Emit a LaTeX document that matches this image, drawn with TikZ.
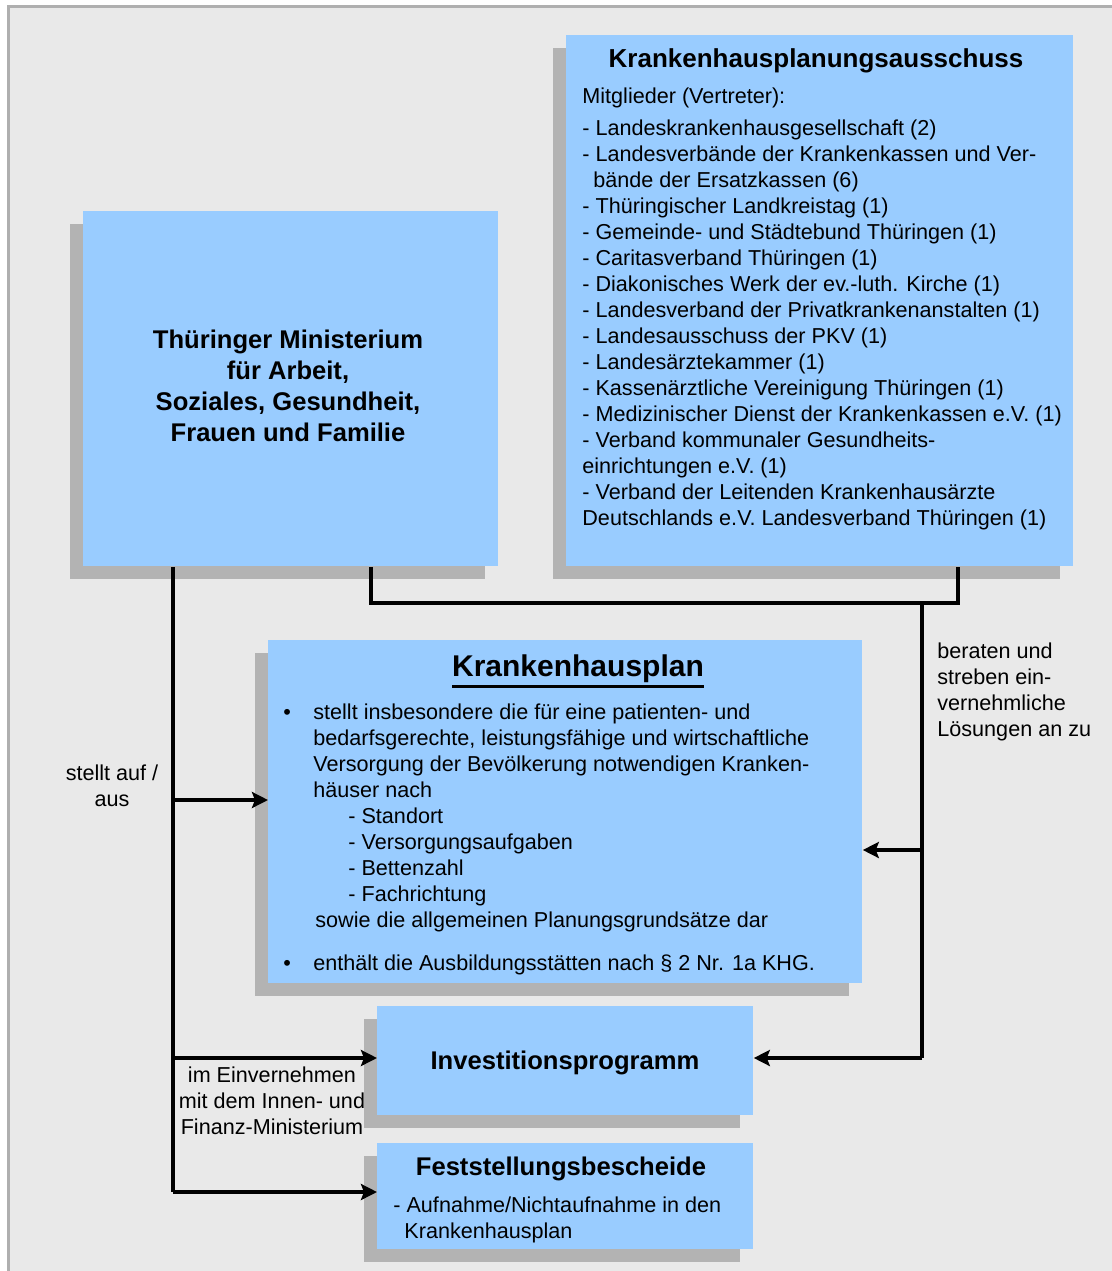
\documentclass[tikz,border=0pt]{standalone}
\usepackage{fontspec}
\setmainfont{Liberation Sans}
\usetikzlibrary{arrows.meta,shadows}
\definecolor{boxblue}{HTML}{99CCFF}
\definecolor{shadowgray}{HTML}{B3B3B3}
\definecolor{bggray}{HTML}{E9E9E9}
\definecolor{framegray}{HTML}{AFAFAF}
\newcommand{\ulthick}[1]{\leavevmode\vtop{\hbox{#1}\kern1.3pt\hrule height 1.4pt}}
\tikzset{
  box/.style={fill=boxblue, inner sep=0pt, anchor=north west,
    drop shadow={shadow xshift=-6.5pt, shadow yshift=-6.5pt, fill=shadowgray, opacity=1}},
  txt/.style={inner sep=0pt, align=left, font=\fontsize{10.8}{13}\selectfont},
  head/.style={inner sep=0pt, align=center, font=\fontsize{12.8}{15.5}\selectfont\bfseries},
  conn/.style={line width=2.3pt}
}
\begin{document}
\begin{tikzpicture}[x=0.5pt,y=-0.5pt,>={Stealth[length=8pt,width=8pt,inset=1.5pt]},line join=miter]
  \useasboundingbox (0,0) rectangle (1112,1271);
  \fill[bggray] (7,5) rectangle (1112,1271);
  \draw[framegray,line width=1.5pt] (8.5,1271)--(8.5,6)--(1112,6);
  % Kaesten
  \node[box,minimum width=207.5pt,minimum height=177.5pt] (mini) at (83,211) {};
  \node[box,minimum width=253.5pt,minimum height=265.5pt] (ausschuss) at (566,35) {};
  \node[box,minimum width=297pt,minimum height=171.5pt] (plan) at (268,640) {};
  \node[box,minimum width=188pt,minimum height=54.5pt] (invest) at (377,1006) {};
  \node[box,minimum width=188pt,minimum height=53pt] (fest) at (377,1143) {};
  % Texte
  \node[head] (miniText) at (288,386) {Thüringer Ministerium\\für Arbeit,\\Soziales, Gesundheit,\\Frauen und Familie};
  \node[head,font=\fontsize{13}{15}\selectfont\bfseries] (ausTitle) at (816,61) {Krankenhausplanungsausschuss};
  \node[txt,anchor=north west] (ausList) at (582,87) {Mitglieder (Vertreter):\\[3pt]
    - Landeskrankenhausgesellschaft (2)\\
    - Landesverbände der Krankenkassen und Ver-\\
    \hspace*{5.5pt}bände der Ersatzkassen (6)\\
    - Thüringischer Landkreistag (1)\\
    - Gemeinde- und Städtebund Thüringen (1)\\
    - Caritasverband Thüringen (1)\\
    - Diakonisches Werk der ev.-luth. Kirche (1)\\
    - Landesverband der Privatkrankenanstalten (1)\\
    - Landesausschuss der PKV (1)\\
    - Landesärztekammer (1)\\
    - Kassenärztliche Vereinigung Thüringen (1)\\
    - Medizinischer Dienst der Krankenkassen e.V. (1)\\
    - Verband kommunaler Gesundheits-\\
    einrichtungen e.V. (1)\\
    - Verband der Leitenden Krankenhausärzte\\
    Deutschlands e.V. Landesverband Thüringen (1)};
  \node[head,font=\fontsize{15}{18}\selectfont\bfseries,anchor=base] (planTitle) at (578,676) {\ulthick{Krankenhausplan}};
  \node[txt,anchor=north west] (planText) at (283,703) {%
    \makebox[15pt][l]{\textbullet}stellt insbesondere die für eine patienten- und\\
    \hspace*{15pt}bedarfsgerechte, leistungsfähige und wirtschaftliche\\
    \hspace*{15pt}Versorgung der Bevölkerung notwendigen Kranken-\\
    \hspace*{15pt}häuser nach\\
    \hspace*{32.5pt}- Standort\\
    \hspace*{32.5pt}- Versorgungsaufgaben\\
    \hspace*{32.5pt}- Bettenzahl\\
    \hspace*{32.5pt}- Fachrichtung\\
    \hspace*{16pt}sowie die allgemeinen Planungsgrundsätze dar\\[8.5pt]
    \makebox[15pt][l]{\textbullet}enthält die Ausbildungsstätten nach § 2 Nr. 1a KHG.};
  \node[head] (investText) at (565,1063) {Investitionsprogramm};
  \node[head] (festTitle) at (561,1169) {Feststellungsbescheide};
  \node[txt,anchor=north west] (festText) at (393,1196) {- Aufnahme/Nichtaufnahme in den\\\hspace*{5.5pt}Krankenhausplan};
  \node[txt,align=center] (stelltLbl) at (112,786) {stellt auf /\\aus};
  \node[txt,align=center] (einvLbl) at (272,1101) {im Einvernehmen\\mit dem Innen- und\\Finanz-Ministerium};
  \node[txt,anchor=north west] (beratLbl) at (937,642) {beraten und\\streben ein-\\vernehmliche\\Lösungen an zu};
  % Verbindungen
  \coordinate (xL) at (173,0);
  \coordinate (xR) at (922,0);
  \coordinate (aPlan) at (173,800);
  \coordinate (aInv) at (173,1058);
  \coordinate (aFest) at (173,1192);
  \coordinate (bPlan) at (922,850);
  \coordinate (jL) at (371,603);
  \coordinate (jR) at (958,603);
  \draw[conn] (mini.south -| xL) -- (aFest);
  \draw[conn,->] (aPlan) -- (aPlan -| plan.west);
  \draw[conn,->] (aInv) -- (aInv -| invest.west);
  \draw[conn,->] (aFest) -- (aFest -| fest.west);
  \draw[conn] (mini.south -| jL) -- (jL) -- (jR) -- (ausschuss.south -| jR);
  \draw[conn] (jR -| xR) -- (aInv -| xR);
  \draw[conn,->] (bPlan) -- (bPlan -| plan.east);
  \draw[conn,->] (aInv -| xR) -- (aInv -| invest.east);
\end{tikzpicture}
\end{document}
